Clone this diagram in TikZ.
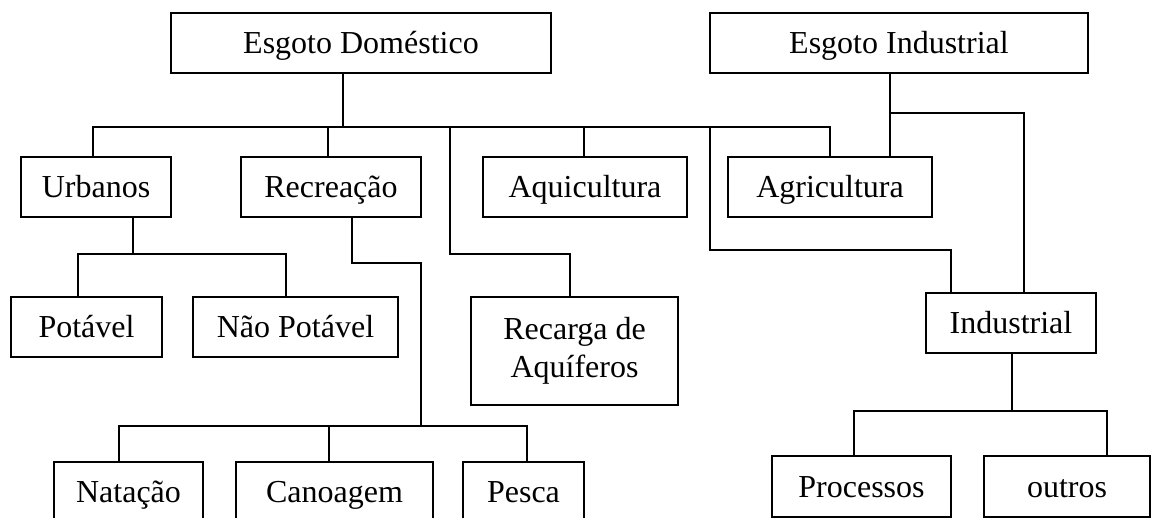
\documentclass[tikz,border=0pt]{standalone}
\usepackage{fontspec}
\setmainfont{Liberation Serif}
\tikzset{
  box/.style={draw, line width=1.7pt, rectangle, inner sep=0pt, minimum height=60pt,
    font=\fontsize{32}{38}\selectfont, text height=21pt, text depth=0pt},
  tall/.style={draw, line width=1.7pt, rectangle, inner sep=0pt, align=center,
    font=\fontsize{32}{38}\selectfont},
  conn/.style={line width=1.7pt, line cap=rect}
}
\begin{document}
\begin{tikzpicture}[x=1pt,y=-1pt]
\useasboundingbox (0,0) rectangle (1152,518);
\clip (0,0) rectangle (1152,518);
% nodes
\node[box, minimum width=380pt] (ed) at (361,43) {Esgoto Doméstico};
\node[box, minimum width=378pt] (esi) at (899,43) {Esgoto Industrial};
\node[box, minimum width=150pt] (urb) at (96,187) {Urbanos};
\node[box, minimum width=180pt] (rec) at (331,187) {Recreação};
\node[box, minimum width=204pt] (aqui) at (585,187) {Aquicultura};
\node[box, minimum width=204pt] (agri) at (830,187) {Agricultura};
\node[box, minimum width=151pt] (pot) at (86.5,327) {Potável};
\node[box, minimum width=205pt] (npot) at (295.5,327) {Não Potável};
\node[tall, minimum width=207pt, minimum height=108pt] (rca) at (574.5,351) {Recarga de\\Aquíferos};
\node[box, minimum width=170pt] (ind) at (1011,323) {Industrial};
\node[box, minimum width=149pt] (nat) at (128.5,492) {Natação};
\node[box, minimum width=197pt] (can) at (334.5,492) {Canoagem};
\node[box, minimum width=121pt] (pes) at (523.5,492) {Pesca};
\node[box, minimum width=179pt, minimum height=61pt] (proc) at (861.5,486.5) {Processos};
\node[box, minimum width=166pt, minimum height=61pt] (out) at (1067,486.5) {outros};
% connectors
\draw[conn] (ed.south -| 343,0) -- (343,127);
\draw[conn] (urb.north -| 93,0) -- (93,127) -- (830,127) -- (agri.north -| 830,0);
\draw[conn] (rec.north -| 328,0) -- (328,127);
\draw[conn] (aqui.north -| 584,0) -- (584,127);
\draw[conn] (450,127) -- (450,254) -| (rca.north -| 570,0);
\draw[conn] (710,127) -- (710,250) -| (ind.north -| 951,0);
\draw[conn] (esi.south -| 890,0) -- (agri.north -| 890,0);
\draw[conn] (890,113) -| (ind.north -| 1024,0);
\draw[conn] (urb.south -| 133,0) -- (133,254);
\draw[conn] (pot.north -| 78,0) -- (78,254) -- (286,254) -- (npot.north -| 286,0);
\draw[conn] (rec.south -| 352,0) -- (352,263) -- (421,263) -- (421,426);
\draw[conn] (nat.north -| 119,0) -- (119,426) -- (527,426) -- (pes.north -| 527,0);
\draw[conn] (can.north -| 329,0) -- (329,426);
\draw[conn] (ind.south -| 1012,0) -- (1012,411);
\draw[conn] (proc.north -| 854,0) -- (854,411) -- (1107,411) -- (out.north -| 1107,0);
\end{tikzpicture}
\end{document}
